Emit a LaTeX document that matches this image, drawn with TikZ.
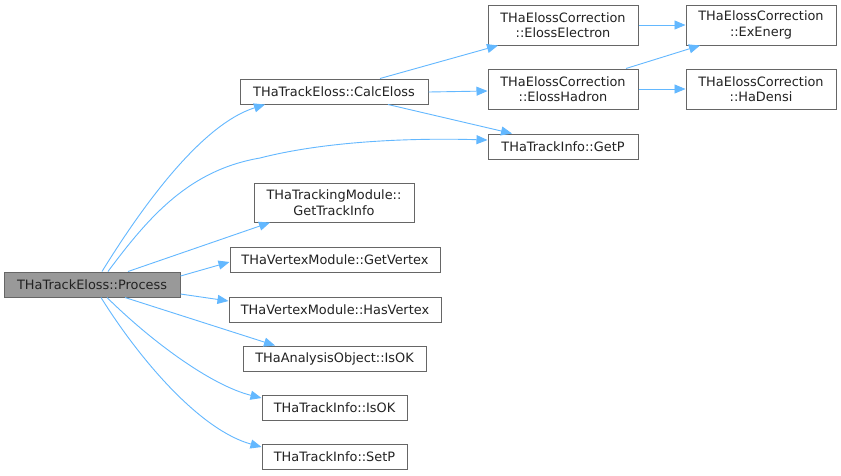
\documentclass[tikz,border=0pt]{standalone}
\usepackage{fontspec}
\setmainfont{DejaVu Sans}
\usetikzlibrary{arrows.meta}
\definecolor{edgec}{HTML}{63B8FF}
\definecolor{boxc}{HTML}{666666}
\definecolor{fillc}{HTML}{999999}
\definecolor{txtc}{HTML}{222222}
\begin{document}
\begin{tikzpicture}[x=1pt,y=-1pt,
  fn/.style={draw=boxc,line width=1pt,fill=white,text=txtc,inner sep=0pt,minimum height=25pt,font=\fontsize{12.9pt}{15.5pt}\selectfont,align=center},
  fn2/.style={fn,minimum height=40pt},
  cur/.style={fn,fill=fillc},
  call/.style={draw=edgec,line width=0.9pt,-{Triangle[length=11pt,width=9pt]}}]
\useasboundingbox (0,0) rectangle (841,475);
\fill[white] (0,0) rectangle (841,475);
\node[cur,minimum width=176pt] (proc) at (92,284.5) {THaTrackEloss::Process};
\node[fn,minimum width=188pt] (calc) at (334,91.5) {THaTrackEloss::CalcEloss};
\node[fn2,minimum width=150pt] (elec) at (563,25) {THaElossCorrection\\::ElossElectron};
\node[fn2,minimum width=150pt] (hadr) at (563,89) {THaElossCorrection\\::ElossHadron};
\node[fn,minimum width=150pt] (getp) at (563,146.5) {THaTrackInfo::GetP};
\node[fn2,minimum width=150pt] (exen) at (761,25) {THaElossCorrection\\::ExEnerg};
\node[fn2,minimum width=150pt] (hade) at (761,89) {THaElossCorrection\\::HaDensi};
\node[fn,minimum width=160pt,minimum height=39pt] (gti) at (334,202.5) {THaTrackingModule::\\GetTrackInfo};
\node[fn,minimum width=210pt] (gv) at (335,259.5) {THaVertexModule::GetVertex};
\node[fn,minimum width=212pt] (hv) at (335,309.5) {THaVertexModule::HasVertex};
\node[fn,minimum width=183pt] (aok) at (334.5,358.5) {THaAnalysisObject::IsOK};
\node[fn,minimum width=145pt] (tok) at (334.5,407.5) {THaTrackInfo::IsOK};
\node[fn,minimum width=145pt] (setp) at (334.5,456.5) {THaTrackInfo::SetP};

\draw[call] (proc.north -| 102,0) .. controls (140,210) and (200,125) .. (calc.south -| 265,0);
\draw[call] (proc.north -| 108,0) .. controls (150,215) and (190,170) .. (260,158) .. controls (330,140) and (420,138) .. (getp.west |- 0,140);
\draw[call] (proc.north -| 128,0) -- (gti.south -| 270,0);
\draw[call] (proc.east |- 0,276) -- (gv.west |- 0,262);
\draw[call] (proc.east |- 0,294) -- (hv.west |- 0,301);
\draw[call] (proc.south -| 125,0) -- (aok.north -| 275,0);
\draw[call] (proc.south -| 107,0) .. controls (150,340) and (210,385) .. (tok.west |- 0,398);
\draw[call] (proc.south -| 101,0) .. controls (140,360) and (200,430) .. (setp.west |- 0,447);
\draw[call] (calc.north -| 380,0) -- (elec.south -| 498,0);
\draw[call] (calc.east |- 0,92) -- (hadr.west |- 0,91);
\draw[call] (calc.south -| 388,0) -- (getp.north -| 512,0);
\draw[call] (elec.east) -- (exen.west);
\draw[call] (hadr.north -| 626,0) -- (exen.south -| 700,0);
\draw[call] (hadr.east) -- (hade.west);
\end{tikzpicture}
\end{document}
